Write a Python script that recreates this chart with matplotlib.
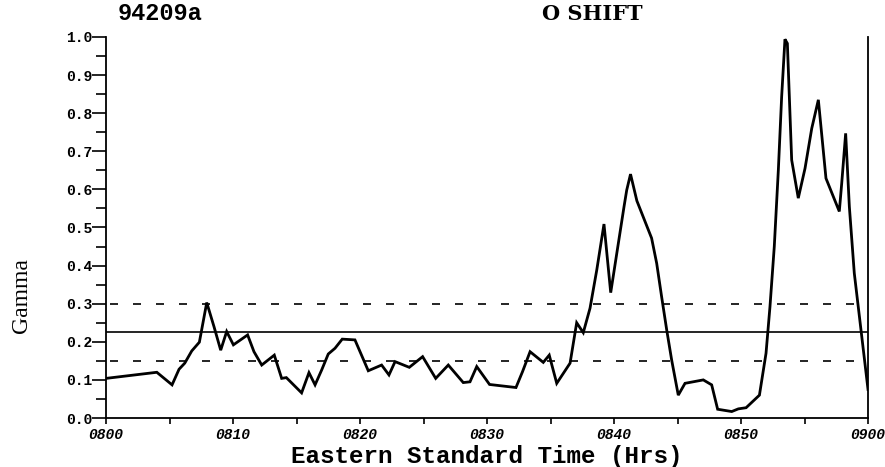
import numpy as np
import matplotlib
matplotlib.use("Agg")
import matplotlib.pyplot as plt
from matplotlib.ticker import MultipleLocator, FixedLocator

# minutes after 0800, gamma values
minutes = [0.0, 4.0, 5.2, 5.75, 6.2, 6.75, 7.35, 7.93, 8.5, 9.03, 9.5, 10.03,
           11.15, 11.65, 12.26, 13.25, 13.83, 14.2, 15.4, 15.98, 16.46, 16.98,
           17.5, 18.03, 18.6, 19.6, 20.65, 21.7, 22.28, 22.76, 23.88, 24.93,
           25.96, 26.95, 28.13, 28.66, 29.19, 30.2, 32.28, 32.8, 33.39, 34.43,
           34.9, 35.49, 36.54, 37.06, 37.58, 38.11, 38.64, 39.21, 39.74, 40.26,
           40.79, 41.0, 41.3, 41.8, 42.96, 43.36, 43.75, 44.15, 44.54, 45.06,
           45.59, 47.03, 47.69, 48.16, 49.27, 49.79, 50.4, 51.45, 51.97, 52.28,
           52.62, 52.94, 53.2, 53.46, 53.65, 53.99, 54.51, 55.04, 55.57, 56.09,
           56.69, 57.74, 57.93, 58.24, 58.53, 58.92, 60.0]
gamma = [0.104, 0.12, 0.087, 0.128, 0.144, 0.176, 0.199, 0.303, 0.24, 0.178,
         0.227, 0.192, 0.218, 0.174, 0.139, 0.165, 0.104, 0.106, 0.066, 0.119,
         0.087, 0.126, 0.168, 0.183, 0.207, 0.205, 0.124, 0.139, 0.113, 0.148,
         0.133, 0.161, 0.104, 0.139, 0.093, 0.095, 0.135, 0.088, 0.08, 0.122,
         0.174, 0.146, 0.165, 0.091, 0.144, 0.25, 0.224, 0.288, 0.388, 0.509,
         0.329, 0.441, 0.555, 0.598, 0.64, 0.57, 0.472, 0.406, 0.318, 0.231,
         0.152, 0.06, 0.091, 0.1, 0.087, 0.023, 0.017, 0.024, 0.027, 0.06,
         0.17, 0.292, 0.45, 0.651, 0.843, 0.994, 0.983, 0.677, 0.577, 0.655,
         0.76, 0.835, 0.629, 0.542, 0.616, 0.747, 0.555, 0.38, 0.075]

mean_level = 0.225
upper_level = 0.30
lower_level = 0.15

xtick_pos = [0, 10, 20, 30, 40, 50, 60]
xtick_labels = ["0800", "0810", "0820", "0830", "0840", "0850", "0900"]

fig = plt.figure(figsize=(8.85, 4.67), dpi=100)
ax = fig.add_axes([0.1198, 0.1049, 0.861, 0.816])

ax.plot(minutes, gamma, color="black", lw=2.0, solid_joinstyle="miter")
ax.axhline(mean_level, color="black", lw=1.2)
ax.axhline(upper_level, xmin=0.005, xmax=0.985, color="black", lw=1.2,
           linestyle=(0, (4.8, 9)))
ax.axhline(lower_level, xmin=0.005, xmax=0.985, color="black", lw=1.2,
           linestyle=(0, (4.8, 9)))

ax.set_xlim(0, 60)
ax.set_ylim(0, 1.0)

ax.spines["top"].set_visible(False)
for s in ["left", "bottom", "right"]:
    ax.spines[s].set_linewidth(1.3)

ax.xaxis.set_major_locator(FixedLocator(xtick_pos))
ax.xaxis.set_minor_locator(MultipleLocator(5))
ax.set_xticklabels(xtick_labels, fontfamily="Liberation Mono",
                   fontweight="bold", fontstyle="italic", fontsize=10.5)
ax.yaxis.set_major_locator(MultipleLocator(0.1))
ax.yaxis.set_minor_locator(MultipleLocator(0.05))
ax.set_yticks(np.arange(0, 1.01, 0.1))
ax.set_yticklabels([f"{v:.1f}" for v in np.arange(0, 1.01, 0.1)],
                   fontfamily="Liberation Mono", fontweight="bold", fontsize=10.5)

ax.tick_params(axis="y", which="major", direction="out", length=10, width=1.2, pad=0)
ax.tick_params(axis="y", which="minor", direction="out", length=7, width=1.2)
ax.tick_params(axis="x", which="both", direction="out", length=4, width=1.2, pad=3)
ax.tick_params(right=False)

ax.set_xlabel("Eastern Standard Time (Hrs)", fontfamily="Liberation Mono",
              fontweight="bold", fontsize=17.5, labelpad=2)
fig.text(21 / 885, 1 - 296 / 467, "Gamma", fontfamily="Liberation Serif",
         fontsize=17, rotation=90, ha="center", va="center")

fig.text(160 / 885, 1 - 14 / 467, "94209a", fontfamily="Liberation Mono",
         fontweight="bold", fontsize=17, ha="center", va="center")
fig.text(592 / 885, 1 - 14 / 467, "O SHIFT", fontfamily="DejaVu Serif",
         fontweight="bold", fontsize=15, ha="center", va="center")

fig.savefig("out.png", dpi=100)
